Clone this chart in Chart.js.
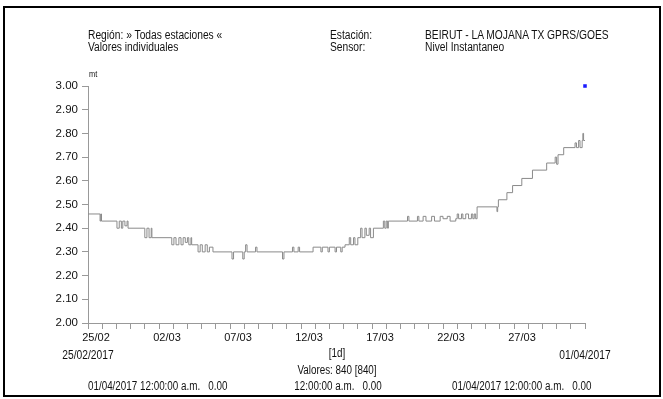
<!DOCTYPE html>
<html lang="es">
<head>
    <meta charset="UTF-8">
    <title>Nivel Instantaneo - BEIRUT</title>
    <script src="https://cdn.jsdelivr.net/npm/chart.js"></script>
    <style>
        body { margin: 0; background: #fff; font-family: "Liberation Sans", Arial, sans-serif; }
        #wrap { position: relative; width: 663px; height: 399px; overflow: hidden; }
        #frame { position: absolute; left: 3px; top: 6px; width: 654px; height: 387px; border: 2px solid #000; }
        canvas { position: absolute; left: 0; top: 0; }
        /* narrow look: the original uses Arial Narrow */
        .t { position: absolute; font-size: 12.5px; line-height: 14px; color: #111; white-space: pre;
             transform: scaleX(0.82); transform-origin: left center; }
        .c { transform: translateX(-50%) scaleX(0.82); transform-origin: center center; }
        .f { font-size: 12px; }
    </style>
</head>
<body>
<div id="wrap">
    <div id="frame"></div>
    <canvas id="nivelChart" width="663" height="399"></canvas>

    <div class="t" style="left: 88px; top: 28px;">Región: » Todas estaciones «</div>
    <div class="t" style="left: 88px; top: 40px;">Valores individuales</div>
    <div class="t" style="left: 330px; top: 28px;">Estación:</div>
    <div class="t" style="left: 330px; top: 40px;">Sensor:</div>
    <div class="t" style="left: 425px; top: 28px;">BEIRUT - LA MOJANA TX GPRS/GOES</div>
    <div class="t" style="left: 425px; top: 40px;">Nivel Instantaneo</div>
    <div class="t" style="left: 89px; top: 67px; font-size: 9px;">mt</div>

    <div class="t c" style="left: 88px; top: 348px;">25/02/2017</div>
    <div class="t c" style="left: 585px; top: 348px;">01/04/2017</div>
    <div class="t c f" style="left: 337px; top: 346px;">[1d]</div>
    <div class="t c f" style="left: 337px; top: 363px;">Valores: 840 [840]</div>
    <div class="t f" style="left: 88px; top: 379px;">01/04/2017 12:00:00 a.m.   0.00</div>
    <div class="t c f" style="left: 338px; top: 379px;">12:00:00 a.m.   0.00</div>
    <div class="t f" style="left: 452px; top: 379px;">01/04/2017 12:00:00 a.m.   0.00</div>
</div>

<script>
    // days since 25/02/2017 where the level changes, and the new level (mt)
    const days = [
        0, 0.85, 0.9, 0.95, 2.04, 2.2, 2.35, 2.45, 2.6, 2.75, 2.82,
        4.0, 4.15, 4.3, 4.45, 4.5, 5.9, 6.05, 6.2, 6.4, 6.55, 6.7, 6.85, 7.0, 7.1, 7.25, 7.3,
        7.75, 7.9, 8.05, 8.25, 8.4, 8.55, 8.8, 10.14, 10.25, 10.9, 11.0, 11.1, 11.2, 11.8, 11.9,
        13.7, 13.8, 14.4, 14.5, 14.8, 14.9, 15.85, 16.4, 16.5, 16.9, 17.0, 17.4, 17.5, 17.8, 17.9,
        18.1, 18.4, 18.5, 18.7, 18.8, 19.0, 19.2, 19.3, 19.5, 19.6, 19.8, 19.9, 20.1,
        20.8, 20.9, 21.0, 21.1, 21.15, 22.5, 22.6, 23.2, 23.3, 23.6, 23.8, 24.2, 24.4, 24.8, 25.0,
        25.3, 25.5, 25.9, 26.0, 26.1, 26.3, 26.4, 26.6, 26.8, 27.0, 27.1, 27.2, 27.3,
        27.4, 28.8, 28.85, 28.9, 29.5, 29.9, 30.55, 31.3, 32.3, 32.9, 33.0, 33.1, 33.5,
        34.3, 34.4, 34.55, 34.65, 34.8, 34.85, 34.9, 35.0
    ];
    const levels = [
        2.46, 2.43, 2.46, 2.43, 2.40, 2.43, 2.40, 2.43, 2.41, 2.43, 2.40,
        2.36, 2.40, 2.36, 2.40, 2.36, 2.33, 2.36, 2.33, 2.36, 2.33, 2.36, 2.34, 2.36, 2.33, 2.36, 2.33,
        2.30, 2.33, 2.30, 2.33, 2.30, 2.32, 2.30, 2.27, 2.30, 2.27, 2.30, 2.33, 2.30, 2.32, 2.30,
        2.27, 2.30, 2.32, 2.30, 2.32, 2.30, 2.32, 2.30, 2.32, 2.30, 2.32, 2.30, 2.32, 2.30, 2.32,
        2.33, 2.36, 2.33, 2.36, 2.33, 2.36, 2.40, 2.36, 2.40, 2.37, 2.40, 2.36, 2.40,
        2.43, 2.40, 2.43, 2.40, 2.43, 2.45, 2.43, 2.45, 2.43, 2.45, 2.43, 2.45, 2.43, 2.45, 2.44,
        2.45, 2.43, 2.44, 2.46, 2.44, 2.46, 2.44, 2.46, 2.44, 2.46, 2.44, 2.46, 2.44,
        2.49, 2.47, 2.49, 2.52, 2.55, 2.58, 2.61, 2.645, 2.675, 2.70, 2.67, 2.71, 2.74,
        2.76, 2.74, 2.77, 2.74, 2.77, 2.80, 2.77, 2.77
    ];
    // lone blue marker at the top right
    const markerDay = [35];
    const markerValue = [3.0];

    const tickDays = [0, 5, 10, 15, 20, 25, 30];
    const tickLabels = ['25/02', '02/03', '07/03', '12/03', '17/03', '22/03', '27/03'];

    const fam = '"Liberation Sans", Arial, sans-serif';

    const ctx = document.getElementById('nivelChart').getContext('2d');
    new Chart(ctx, {
        type: 'line',
        data: {
            datasets: [
                {
                    data: days.map((d, i) => ({ x: d, y: levels[i] })),
                    borderColor: '#8a8a8a',
                    borderWidth: 1,
                    stepped: true,
                    pointRadius: 0,
                    fill: false
                },
                {
                    data: markerDay.map((d, i) => ({ x: d, y: markerValue[i] })),
                    showLine: false,
                    pointStyle: 'rect',
                    pointRadius: 2.5,
                    backgroundColor: '#1a1aff',
                    borderColor: '#1a1aff',
                    borderWidth: 0,
                    clip: false
                }
            ]
        },
        options: {
            responsive: false,
            animation: false,
            devicePixelRatio: 1,
            layout: { padding: { left: 48, top: 86, right: 78, bottom: 46 } },
            plugins: { legend: { display: false }, tooltip: { enabled: false } },
            scales: {
                x: {
                    type: 'linear',
                    min: 0,
                    max: 35,
                    afterFit: s => { s.height = 30; },
                    grid: { drawOnChartArea: false, color: '#999', tickLength: 6 },
                    border: { color: '#999' },
                    ticks: {
                        stepSize: 1,
                        autoSkip: false,
                        maxRotation: 0,
                        padding: 2,
                        labelOffset: 8,
                        color: '#111',
                        font: { family: fam, size: 11 },
                        callback: v => {
                            const i = tickDays.indexOf(v);
                            return i >= 0 ? tickLabels[i] : '';
                        }
                    }
                },
                y: {
                    min: 2,
                    max: 3,
                    afterFit: s => { s.width = 40; },
                    grid: { drawOnChartArea: false, color: '#999', tickLength: 6 },
                    border: { color: '#999' },
                    ticks: {
                        stepSize: 0.1,
                        padding: 4,
                        color: '#111',
                        font: { family: fam, size: 11.5 },
                        callback: v => v.toFixed(2)
                    }
                }
            }
        }
    });
</script>
</body>
</html>
